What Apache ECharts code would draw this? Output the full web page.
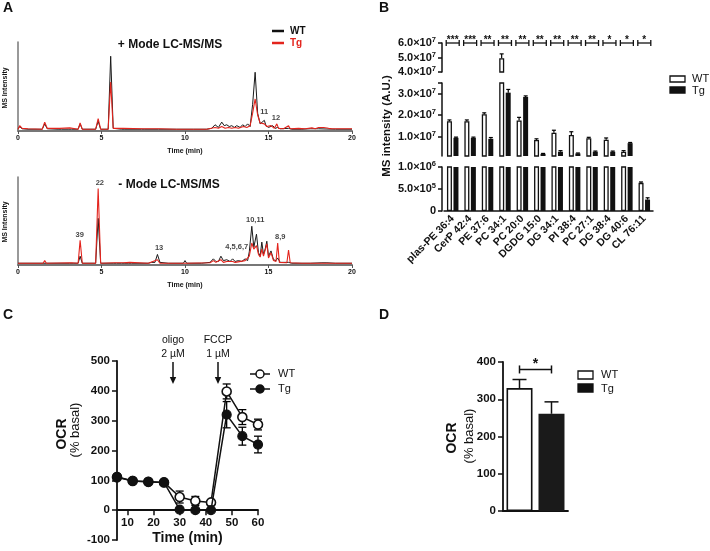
<!DOCTYPE html>
<html><head><meta charset="utf-8">
<script src="https://cdn.jsdelivr.net/npm/echarts@6/dist/echarts.min.js"></script>
<style>html,body{margin:0;padding:0;background:#fff}#c{width:710px;height:551px}</style>
</head><body><div id="c"></div>
<script>
const FONT = '"Liberation Sans", Arial, Helvetica, sans-serif';

// ---------- Panel A : chromatograms (time min, relative intensity) ----------
const posWT = [[0,2],[0.1,5],[0.25,2.5],[0.6,2],[1.45,2],[1.6,8],[1.75,2.5],[2.4,2],[2.5,3],[2.6,2],[3.0,2],[3.1,3],[3.2,2],[3.6,2],[3.72,8],[3.85,2],[4.65,2],[4.8,11],[4.95,2],[5.4,2],[5.55,84],[5.7,3],[6.2,2],[6.3,3],[6.4,2],[7.4,2],[7.5,3],[7.6,2],[8.4,2],[8.5,2.5],[9.5,2],[10.5,2],[11.3,2],[11.6,3],[11.8,7],[12.0,4],[12.2,10],[12.35,6],[12.5,7],[12.65,5],[12.8,6],[12.95,4],[13.1,6],[13.3,4],[13.45,7],[13.6,5],[13.75,8],[13.9,5],[14.05,30],[14.2,66],[14.35,20],[14.5,8],[14.6,6],[14.75,12],[14.85,6],[15.0,4],[15.1,5],[15.25,6],[15.4,3],[15.55,4],[15.7,2.5],[16.2,3],[16.4,2],[17.0,2],[17.5,2.5],[18.0,2.5],[18.5,2.2],[19,2],[20,2]];
const posTg = [[0,2],[0.1,6],[0.25,3],[0.6,2.5],[1.45,2],[1.6,10],[1.75,3],[2.5,3],[2.6,2],[3.1,3.5],[3.2,2],[3.6,2],[3.72,9],[3.85,2],[4.65,2],[4.8,14],[4.95,2],[5.4,2],[5.55,55],[5.7,3],[6.3,3],[6.4,2],[7.5,2.5],[8.5,2.5],[9.5,2],[10.5,2],[11.3,2],[11.8,4],[12.0,3],[12.2,5],[12.4,3],[12.6,4],[12.8,3],[13.0,4],[13.2,3],[13.5,5],[13.7,4],[13.9,6],[14.05,20],[14.2,36],[14.35,18],[14.5,9],[14.6,7],[14.75,8],[14.9,5],[15.0,4],[15.15,6],[15.25,7],[15.35,3],[15.5,8],[15.6,3],[15.9,2.5],[16.2,6],[16.3,2.5],[16.8,3],[17.2,2.5],[17.6,3.5],[17.8,2.5],[18.0,4],[18.1,2.5],[18.3,4],[18.4,2.5],[18.6,3],[18.8,2.5],[19.2,2.5],[20,2.5]];
const negWT = [[0,2],[1.5,2],[1.6,4],[1.7,2],[3.1,2],[3.2,2.5],[3.3,2],[3.6,2],[3.72,10],[3.85,2],[4.65,2],[4.8,53],[4.95,2],[5.7,2],[5.8,3],[5.9,2],[6.2,2],[6.3,3],[6.4,2],[6.6,2],[6.7,4],[6.8,2],[7.8,2],[8.0,3],[8.2,3],[8.35,12],[8.5,3],[9.0,2],[9.9,2],[10.0,5],[10.1,2],[11.0,2],[11.5,3],[11.7,7],[11.85,4],[12.0,4],[12.15,10],[12.3,5],[12.5,6],[12.7,4],[12.85,7],[13.0,4],[13.2,5],[13.4,4],[13.6,7],[13.75,5],[13.85,15],[14.0,44],[14.12,20],[14.28,35],[14.4,14],[14.5,10],[14.6,26],[14.7,12],[14.8,18],[14.9,27],[15.0,10],[15.15,16],[15.3,6],[15.45,5],[15.55,8],[15.7,3],[16.2,3],[16.4,2],[17.5,2],[18.2,2.5],[18.5,2.5],[19,2],[20,2]];
const negTg = [[0,2],[1.5,2],[1.6,5],[1.7,2],[3.2,2.5],[3.3,2],[3.6,2],[3.72,28],[3.85,2],[4.65,2],[4.8,87],[4.95,2],[5.8,2.5],[6.3,2.5],[6.7,3],[7.8,2],[8.35,6],[8.5,2],[9.9,2],[10.0,4],[10.1,2],[11.5,2.5],[11.7,5],[11.85,3],[12.15,6],[12.3,3],[12.5,4],[12.85,4],[13.0,3],[13.6,5],[13.85,10],[14.0,25],[14.12,18],[14.28,22],[14.4,12],[14.5,9],[14.6,18],[14.7,10],[14.9,24],[15.0,8],[15.15,14],[15.3,5],[15.45,4],[15.55,25],[15.65,3],[16.1,2.5],[16.2,17],[16.3,2.5],[17,2],[20,2]];
const posPeakLabels = [[14.75,21,'11'],[15.45,15,'12']];
const negPeakLabels = [[4.9,93,'22'],[3.7,34,'39'],[8.45,19,'13'],[13.1,20,'4,5,6,7'],[14.2,51,'10,11'],[15.7,32,'8,9']];
const timeTicksA = [0,5,10,15,20];

// ---------- Panel B : lipid species ----------
const lipids = ['plas-PE 36:4','CerP 42:4','PE 37:6','PC 34:1','PC 20:0','DGDG 15:0','DG 34:1','PI 38:4','PC 27:1','DG 38:4','DG 40:6','CL 76:11'];
const bWTmean = [1.72e7,1.72e7,2.05e7,4.95e7,1.75e7,0.85e7,1.18e7,1.08e7,0.93e7,0.86e7,0.30e7,0.64e6];
const bWTerr  = [0.06e7,0.06e7,0.06e7,0.30e7,0.15e7,0.05e7,0.12e7,0.15e7,0.04e7,0.08e7,0.05e7,0.02e6];
const bTgmean = [0.95e7,0.95e7,0.90e7,3.05e7,2.85e7,0.20e7,0.30e7,0.22e7,0.30e7,0.30e7,0.70e7,0.26e6];
const bTgerr  = [0.03e7,0.03e7,0.06e7,0.15e7,0.05e7,0.02e7,0.05e7,0.02e7,0.03e7,0.03e7,0.03e7,0.04e6];
const bStars  = ['***','***','**','**','**','**','**','**','**','*','*','*'];
const bTicksTop = [4e7,5e7,6e7], bTicksMid = [1e7,2e7,3e7], bTicksLow = [0,5e5,1e6];

// ---------- Panel C : OCR time course ----------
const cTime  = [6,12,18,24,30,36,42,48,54,60];
const cWT    = [110,98,95,93,44,31,26,398,312,287];
const cWTerr = [3,3,3,3,20,15,8,25,25,18];
const cTg    = [112,98,95,93,2,0,0,320,248,220];
const cTgerr = [3,3,3,3,3,3,3,44,30,28];
const cTimeTicks = [10,20,30,40,50,60];

// ---------- Panel D : maximal OCR ----------
const dGroups = ['WT','Tg'];
const dMean = [330,261];
const dErr  = [23,32];

const fmtSci = v => {
  if (v === 0) return '0';
  const e = Math.floor(Math.log10(v) + 1e-9);
  const m = v / Math.pow(10, e);
  return '{m|' + m.toFixed(1) + '\u00d710}{s|' + e + '}';
};

const lbl = (size, weight) => ({fontSize:size, fontWeight:weight||'bold', fontFamily:FONT, color:'#111'});
const blackLine = w => ({lineStyle:{color:'#111', width:w||1.5}});

function bErr(params, api) {
  const i = api.value(0);
  const out = [];
  [[api.value(1), api.value(2), -3.3], [api.value(3), api.value(4), 3.3]].forEach(([m,e,dx]) => {
    const p0 = api.coord([i, m]), p1 = api.coord([i, m + e]);
    const x = p0[0] + dx;
    out.push({type:'line', shape:{x1:x, y1:p0[1], x2:x, y2:p1[1]}, style:{stroke:'#000', lineWidth:1.2}});
    out.push({type:'line', shape:{x1:x-2, y1:p1[1], x2:x+2, y2:p1[1]}, style:{stroke:'#000', lineWidth:1.2}});
  });
  return {type:'group', children:out};
}
const bErrData = lipids.map((_,i) => [i, bWTmean[i], bWTerr[i], bTgmean[i], bTgerr[i]]);

function cErr(params, api) {
  const t = api.value(0), m = api.value(1), e = api.value(2);
  const a = api.coord([t, m + e]), b = api.coord([t, m - e]);
  return {type:'group', children:[
    {type:'line', shape:{x1:a[0], y1:a[1], x2:b[0], y2:b[1]}, style:{stroke:'#000', lineWidth:1.3}},
    {type:'line', shape:{x1:a[0]-4, y1:a[1], x2:a[0]+4, y2:a[1]}, style:{stroke:'#000', lineWidth:1.3}},
    {type:'line', shape:{x1:b[0]-4, y1:b[1], x2:b[0]+4, y2:b[1]}, style:{stroke:'#000', lineWidth:1.3}}
  ]};
}

function txt(x, y, text, o) {
  o = o || {};
  return {type:'text', x:x, y:y, rotation:o.rot||0, z:100,
    style:{text:text, fill:o.color||'#111', font:(o.weight||'bold')+' '+(o.size||12)+'px '+FONT,
      align:o.align||'center', verticalAlign:o.va||'middle'}};
}
function line(x1,y1,x2,y2,c,w){ return {type:'line', z:100, shape:{x1,y1,x2,y2}, style:{stroke:c||'#111', lineWidth:w||1.5}}; }
function rect(x,y,w,h,fill){ return {type:'rect', z:100, shape:{x,y,width:w,height:h}, style:{fill:fill, stroke:'#111', lineWidth:1.3}}; }
function arrow(x, y1, y2){ return [line(x,y1,x,y2-5,'#111',1.5), {type:'polygon', z:100, shape:{points:[[x-3.2,y2-7],[x+3.2,y2-7],[x,y2]]}, style:{fill:'#111'}}]; }

const RED = '#e3241d';
const graphics = [
  txt(8,8,'A',{size:14}), txt(384,8,'B',{size:14}), txt(8,315,'C',{size:14}), txt(384,315,'D',{size:14}),
  // panel A
  txt(170,45,'+ Mode LC-MS/MS',{size:12}), txt(169,185,'- Mode LC-MS/MS',{size:12}),
  line(272,31,284,31,'#111',2.5), txt(290,31,'WT',{size:10,align:'left'}),
  line(272,43,284,43,RED,2.5), txt(290,43,'Tg',{size:10,align:'left',color:RED}),
  txt(5,88,'MS Intensity',{size:7,rot:Math.PI/2}), txt(5,222,'MS Intensity',{size:7,rot:Math.PI/2}),
  // panel B
  txt(387,126,'MS intensity (A.U.)',{size:11.5,rot:Math.PI/2}),
  rect(670,76,15,6,'#fff'), txt(692,79,'WT',{size:11,weight:'normal',align:'left'}),
  rect(670,87,15,6,'#111'), txt(692,91,'Tg',{size:11,weight:'normal',align:'left'}),
  // panel C
  txt(62,434,'OCR',{size:14,rot:Math.PI/2}), txt(75,430,'(% basal)',{size:13,weight:'normal',rot:Math.PI/2}),
  txt(173,340,'oligo',{size:10.5,weight:'normal'}), txt(173,354,'2 \u00b5M',{size:10.5,weight:'normal'}),
  txt(218,340,'FCCP',{size:10.5,weight:'normal'}), txt(218,354,'1 \u00b5M',{size:10.5,weight:'normal'}),
  ...arrow(173,362,384), ...arrow(218,362,384),
  line(250,374,270,374,'#111',1.5), {type:'circle', z:101, shape:{cx:260,cy:374,r:4}, style:{fill:'#fff',stroke:'#111',lineWidth:1.5}},
  txt(278,374,'WT',{size:11,weight:'normal',align:'left'}),
  line(250,389,270,389,'#111',1.5), {type:'circle', z:101, shape:{cx:260,cy:389,r:4}, style:{fill:'#111',stroke:'#111',lineWidth:1.5}},
  txt(278,389,'Tg',{size:11,weight:'normal',align:'left'}),
  // panel D
  txt(452,438,'OCR',{size:14,rot:Math.PI/2}), txt(469,436,'(% basal)',{size:13,weight:'normal',rot:Math.PI/2}),
  rect(578,371,15,8,'#fff'), txt(601,375,'WT',{size:11,weight:'normal',align:'left'}),
  rect(578,384,15,8,'#111'), txt(601,389,'Tg',{size:11,weight:'normal',align:'left'})
];

const aX = (g) => ({gridIndex:g, type:'value', min:0, max:20, interval:5,
  axisLine:{lineStyle:{color:'#777', width:2}}, axisTick:{length:3, lineStyle:{color:'#555'}},
  axisLabel:Object.assign({margin:4}, lbl(7)), splitLine:{show:false},
  name:'Time (min)', nameLocation:'middle', nameGap:17, nameTextStyle:lbl(7)});
const aY = (g) => ({gridIndex:g, type:'value', min:0, max:100, axisLine:{show:true, lineStyle:{color:'#777', width:1.5}},
  axisTick:{show:false}, axisLabel:{show:false}, splitLine:{show:false}});
const bX = (g, show) => ({gridIndex:g, type:'category', data:lipids, show:show,
  axisLine:blackLine(1.5), axisTick:{alignWithLabel:true, length:5, lineStyle:{color:'#111',width:1.5}},
  axisLabel:Object.assign({rotate:45, margin:6, interval:0}, lbl(10.5))});
const bY = (g, min, max, ticks, tickExtra) => ({gridIndex:g, type:'value', min:min, max:max, offset:2,
  axisLine:Object.assign({show:true}, blackLine(1.5)),
  axisTick:{show:true, length:4, lineStyle:{color:'#111',width:1.5}, customValues:ticks.concat(tickExtra||[])},
  axisLabel:Object.assign({margin:6, formatter:fmtSci, customValues:ticks,
    rich:{m:lbl(11), s:Object.assign({padding:[0,0,6,0]}, lbl(7.5))}}, lbl(11)), splitLine:{show:false}});

const bBars = (xi) => [
  {type:'bar', name:'WT', xAxisIndex:xi, yAxisIndex:xi, data:bWTmean, barWidth:5, barGap:'30%', clip:true,
    itemStyle:{color:'#fff', borderColor:'#111', borderWidth:1.3}},
  {type:'bar', name:'Tg', xAxisIndex:xi, yAxisIndex:xi, data:bTgmean, barWidth:5, barGap:'30%', clip:true,
    itemStyle:{color:'#111'}},
  {type:'custom', xAxisIndex:xi, yAxisIndex:xi, data:bErrData, renderItem:bErr, clip:true, z:5}
];

const C_PX100 = 179 / 6;

const option = {
  animation:false,
  backgroundColor:'#fff',
  textStyle:{fontFamily:FONT},
  graphic:graphics,
  grid:[
    {left:18, top:42, width:334, height:89},
    {left:18, top:177, width:334, height:88},
    {left:444, top:43, width:209, height:29},
    {left:444, top:83, width:209, height:73},
    {left:444, top:167, width:209, height:44},
    {left:117, top:361, width:141, height:179},
    {left:503, top:362, width:65, height:149}
  ].map(g => Object.assign({containLabel:false, outerBoundsMode:'none'}, g)),
  xAxis:[
    aX(0), aX(1),
    bX(2,false), bX(3,false), bX(4,true),
    {gridIndex:5, type:'value', min:6, max:60, offset:-C_PX100,
      axisLine:Object.assign({onZero:false}, blackLine(1.8)),
      axisTick:{length:5, customValues:cTimeTicks, lineStyle:{color:'#111',width:1.5}},
      axisLabel:Object.assign({margin:7, customValues:cTimeTicks}, lbl(11.5)), splitLine:{show:false},
      name:'Time (min)', nameLocation:'middle', nameGap:21, nameTextStyle:lbl(14)},
    {gridIndex:6, type:'category', data:[''], axisLine:blackLine(1.8),
      axisTick:{alignWithLabel:true, length:5, lineStyle:{color:'#111',width:1.5}}, axisLabel:{show:false}}
  ],
  yAxis:[
    aY(0), aY(1),
    bY(2, 4e7, 6e7, bTicksTop),
    bY(3, 1e6, 3.5e7, bTicksMid, [3.5e7]),
    bY(4, 0, 1e6, bTicksLow),
    {gridIndex:5, type:'value', min:-100, max:500, interval:100,
      axisLine:Object.assign({show:true}, blackLine(1.8)), axisTick:{show:true, length:5, lineStyle:{color:'#111',width:1.5}},
      axisLabel:Object.assign({margin:7}, lbl(11.5)), splitLine:{show:false}},
    {gridIndex:6, type:'value', min:0, max:400, interval:100,
      axisLine:Object.assign({show:true}, blackLine(1.8)), axisTick:{show:true, length:5, lineStyle:{color:'#111',width:1.5}},
      axisLabel:Object.assign({margin:7}, lbl(11.5)), splitLine:{show:false}}
  ],
  series:[
    // Panel A
    {type:'line', name:'WT +', xAxisIndex:0, yAxisIndex:0, data:posWT, showSymbol:false, lineStyle:{color:'#1a1a1a', width:1}, z:2},
    {type:'line', name:'Tg +', xAxisIndex:0, yAxisIndex:0, data:posTg, showSymbol:false, lineStyle:{color:RED, width:1.1}, z:3},
    {type:'line', name:'WT -', xAxisIndex:1, yAxisIndex:1, data:negWT, showSymbol:false, lineStyle:{color:'#1a1a1a', width:1}, z:2},
    {type:'line', name:'Tg -', xAxisIndex:1, yAxisIndex:1, data:negTg, showSymbol:false, lineStyle:{color:RED, width:1.1}, z:3},
    {type:'scatter', xAxisIndex:0, yAxisIndex:0, data:posPeakLabels, symbolSize:0.1, itemStyle:{color:'transparent'}, z:10,
      label:Object.assign({show:true, position:'inside', formatter:p => p.value[2]}, lbl(7.5))},
    {type:'scatter', xAxisIndex:1, yAxisIndex:1, data:negPeakLabels, symbolSize:0.1, itemStyle:{color:'transparent'}, z:10,
      label:Object.assign({show:true, position:'inside', formatter:p => p.value[2]}, lbl(7.5))},
    // Panel B
    ...bBars(2), ...bBars(3), ...bBars(4),
    {type:'custom', xAxisIndex:2, yAxisIndex:2, clip:false, z:20, data:lipids.map((_,i) => [i, 6e7]),
      renderItem:(params, api) => {
        const p = api.coord([api.value(0), api.value(1)]);
        const x1 = p[0]-6.5, x2 = p[0]+6.5, y = p[1];
        return {type:'group', children:[
          {type:'line', shape:{x1:x1,y1:y,x2:x2,y2:y}, style:{stroke:'#111', lineWidth:1.3}},
          {type:'line', shape:{x1:x1,y1:y-3,x2:x1,y2:y+3}, style:{stroke:'#111', lineWidth:1.3}},
          {type:'line', shape:{x1:x2,y1:y-3,x2:x2,y2:y+3}, style:{stroke:'#111', lineWidth:1.3}},
          {type:'text', style:{text:bStars[params.dataIndex], x:p[0], y:y-8, align:'center', verticalAlign:'top',
            font:'bold 10px '+FONT, fill:'#111'}}
        ]};
      }},
    // Panel C
    {type:'custom', xAxisIndex:5, yAxisIndex:5, data:cTime.map((t,i)=>[t,cWT[i],cWTerr[i]]), renderItem:cErr, z:3},
    {type:'custom', xAxisIndex:5, yAxisIndex:5, data:cTime.map((t,i)=>[t,cTg[i],cTgerr[i]]), renderItem:cErr, z:3},
    {type:'line', name:'WT', xAxisIndex:5, yAxisIndex:5, data:cTime.map((t,i)=>[t,cWT[i]]), symbol:'circle', symbolSize:9,
      lineStyle:{color:'#111', width:1.5}, itemStyle:{color:'#fff', borderColor:'#111', borderWidth:1.6}, z:4},
    {type:'line', name:'Tg', xAxisIndex:5, yAxisIndex:5, data:cTime.map((t,i)=>[t,cTg[i]]), symbol:'circle', symbolSize:9,
      lineStyle:{color:'#111', width:1.5}, itemStyle:{color:'#111', borderColor:'#111', borderWidth:1.2}, z:5},
    // Panel D
    {type:'bar', name:'WT', xAxisIndex:6, yAxisIndex:6, data:[dMean[0]], barWidth:26, barGap:'23%',
      itemStyle:{color:'#fff', borderColor:'#111', borderWidth:1.6}},
    {type:'bar', name:'Tg', xAxisIndex:6, yAxisIndex:6, data:[dMean[1]], barWidth:26, barGap:'23%',
      itemStyle:{color:'#1a1a1a'}},
    {type:'custom', xAxisIndex:6, yAxisIndex:6, data:[[0, dMean[0], dErr[0], dMean[1], dErr[1]]], z:5,
      renderItem:(params, api) => {
        const out = [];
        [[api.value(1), api.value(2), -16], [api.value(3), api.value(4), 16]].forEach(([m,e,dx]) => {
          const p0 = api.coord([0, m]), p1 = api.coord([0, m+e]);
          const x = p0[0] + dx;
          out.push({type:'line', shape:{x1:x,y1:p0[1],x2:x,y2:p1[1]}, style:{stroke:'#111', lineWidth:1.5}});
          out.push({type:'line', shape:{x1:x-7,y1:p1[1],x2:x+7,y2:p1[1]}, style:{stroke:'#111', lineWidth:1.5}});
        });
        const b = api.coord([0, 380]);
        const bx1 = b[0]-16, bx2 = b[0]+16;
        out.push({type:'line', shape:{x1:bx1,y1:b[1],x2:bx2,y2:b[1]}, style:{stroke:'#111', lineWidth:1.5}});
        out.push({type:'line', shape:{x1:bx1,y1:b[1]-4,x2:bx1,y2:b[1]+4}, style:{stroke:'#111', lineWidth:1.5}});
        out.push({type:'line', shape:{x1:bx2,y1:b[1]-4,x2:bx2,y2:b[1]+4}, style:{stroke:'#111', lineWidth:1.5}});
        out.push({type:'text', style:{text:'*', x:b[0], y:b[1]-12, align:'center', verticalAlign:'top', font:'bold 14px '+FONT, fill:'#111'}});
        return {type:'group', children:out};
      }}
  ]
};

const chart = echarts.init(document.getElementById('c'));
chart.setOption(option);
</script>
</body></html>
